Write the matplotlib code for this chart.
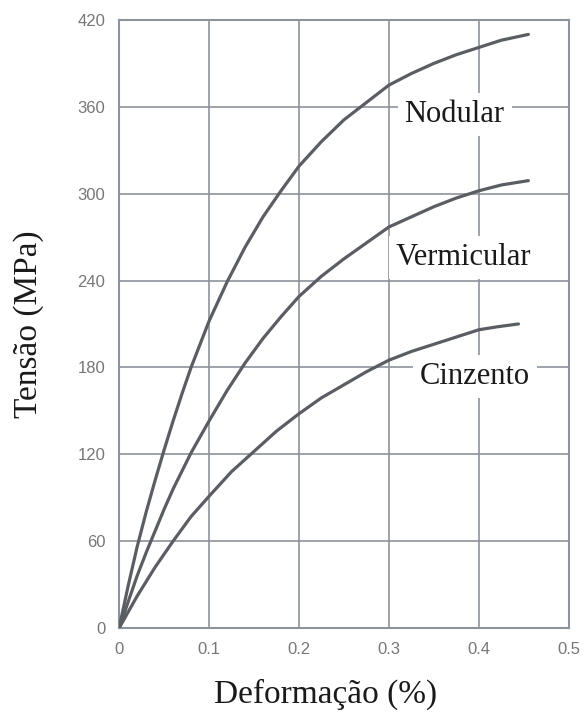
import numpy as np
import matplotlib.pyplot as plt

# strain (%) / stress (MPa)
nodular_x = [0.0, 0.01, 0.02, 0.03, 0.04, 0.05, 0.06, 0.07, 0.08, 0.09, 0.10, 0.12, 0.14, 0.16, 0.18,
             0.20, 0.225, 0.25, 0.275, 0.30, 0.325, 0.35, 0.375, 0.40, 0.425, 0.455]
nodular_y = [0, 29, 56, 80, 102, 123, 143, 162, 180, 196, 212, 239, 263, 284, 302,
             319, 336, 351, 363, 375, 383, 390, 396, 401, 406, 410]

vermic_x = [0.0, 0.01, 0.02, 0.03, 0.04, 0.05, 0.06, 0.08, 0.10, 0.12, 0.14, 0.16, 0.18,
            0.20, 0.225, 0.25, 0.275, 0.30, 0.325, 0.35, 0.375, 0.40, 0.425, 0.455]
vermic_y = [0, 18, 36, 52, 67, 82, 96, 121, 143, 164, 183, 200, 215,
            229, 243, 255, 266, 277, 284, 291, 297, 302, 306, 309]

cinz_x = [0.0, 0.02, 0.04, 0.06, 0.08, 0.10, 0.125, 0.15, 0.175, 0.20, 0.225, 0.25, 0.275,
          0.30, 0.325, 0.35, 0.375, 0.40, 0.42, 0.444]
cinz_y = [0, 22, 42, 60, 77, 91, 108, 122, 136, 148, 159, 168, 177,
          185, 191, 196, 201, 206, 208, 210]

labels = ["Nodular", "Vermicular", "Cinzento"]
label_x = [0.373, 0.383, 0.396]
label_y = [355, 256, 174]

xticks = [0, 0.1, 0.2, 0.3, 0.4, 0.5]
xticklabels = ["0", "0.1", "0.2", "0.3", "0.4", "0.5"]
yticks = [0, 60, 120, 180, 240, 300, 360, 420]

fig = plt.figure(figsize=(5.84, 7.12), dpi=100)
ax = fig.add_axes([0.204, 0.118, 0.770, 0.854])

curve_color = "#5a5d63"
grid_color = "#8d939c"

for xs, ys in [(nodular_x, nodular_y), (vermic_x, vermic_y), (cinz_x, cinz_y)]:
    ax.plot(xs, ys, color=curve_color, lw=2.3, zorder=3, solid_capstyle="round")

ax.set_xlim(0, 0.5)
ax.set_ylim(0, 420)
ax.set_xticks(xticks)
ax.set_xticklabels(xticklabels)
ax.set_yticks(yticks)
ax.grid(True, color=grid_color, lw=1.2)
ax.set_axisbelow(True)
for s in ax.spines.values():
    s.set_color(grid_color)
    s.set_linewidth(1.5)

ax.tick_params(length=0, pad=10, colors="#777777", labelsize=12)
for t in ax.get_xticklabels() + ax.get_yticklabels():
    t.set_family("Liberation Sans")

for name, lx, ly in zip(labels, label_x, label_y):
    ax.text(lx, ly, name, ha="center", va="center", fontsize=22,
            family="Liberation Serif", color="#1a1a1a", zorder=4,
            bbox=dict(facecolor="white", edgecolor="none", pad=5))

ax.set_xlabel("Deformação (%)", family="Liberation Serif", fontsize=24,
              color="#1a1a1a")
ax.set_ylabel("Tensão (MPa)", family="Liberation Serif", fontsize=24,
              color="#1a1a1a")
ax.xaxis.set_label_coords(0.458, -0.084)
ax.yaxis.set_label_coords(-0.167, 0.5)

fig.savefig("out.png", dpi=100)
